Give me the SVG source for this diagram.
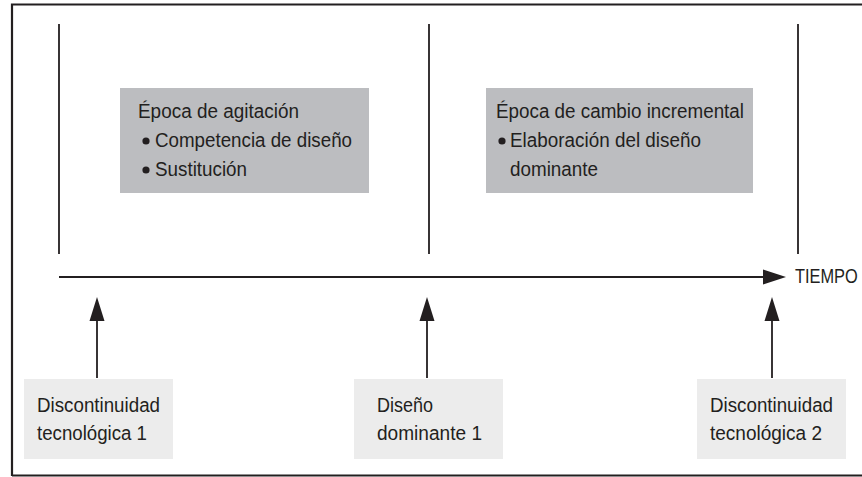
<svg xmlns="http://www.w3.org/2000/svg" width="862" height="477" viewBox="0 0 862 477">
<defs>
<style>
.t{font-family:"Liberation Sans",Arial,sans-serif;font-size:20px;fill:#231f20}
.ln{stroke:#231f20;stroke-width:1.8;fill:none}
.hd{fill:#231f20}
.top{fill:#bcbdc0}
.bot{fill:#ececec}
</style>
</defs>
<rect width="862" height="477" fill="#ffffff"/>
<g id="frame">
<path d="M12,476 V4.5 H862 M12,475.5 H862" stroke="#231f20" stroke-width="2.2" fill="none"/>
</g>
<g id="dividers">
<line class="ln" x1="59" y1="24" x2="59" y2="254"/>
<line class="ln" x1="429" y1="24" x2="429" y2="254"/>
<line class="ln" x1="798" y1="24" x2="798" y2="254"/>
</g>
<g id="epoca-agitacion">
<rect class="top" x="120" y="88" width="249" height="105"/>
<text class="t" x="138" y="118" textLength="161" lengthAdjust="spacingAndGlyphs">Época de agitación</text>
<circle class="hd" cx="146" cy="141" r="3.6"/>
<text class="t" x="155" y="147" textLength="197" lengthAdjust="spacingAndGlyphs">Competencia de diseño</text>
<circle class="hd" cx="146" cy="170" r="3.6"/>
<text class="t" x="155" y="176" textLength="92" lengthAdjust="spacingAndGlyphs">Sustitución</text>
</g>
<g id="epoca-cambio">
<rect class="top" x="486" y="88" width="267" height="105"/>
<text class="t" x="496" y="118" textLength="248" lengthAdjust="spacingAndGlyphs">Época de cambio incremental</text>
<circle class="hd" cx="502" cy="141" r="3.6"/>
<text class="t" x="510" y="147" textLength="191" lengthAdjust="spacingAndGlyphs">Elaboración del diseño</text>
<text class="t" x="510" y="176" textLength="88" lengthAdjust="spacingAndGlyphs">dominante</text>
</g>
<g id="tiempo">
<text class="t" transform="translate(795,283) scale(0.82,1)" x="0" y="0">TIEMPO</text>
</g>
<g id="disc1">
<rect class="bot" x="24" y="379" width="149" height="80"/>
<text class="t" x="37" y="412" textLength="123" lengthAdjust="spacingAndGlyphs">Discontinuidad</text>
<text class="t" x="37" y="440" textLength="110" lengthAdjust="spacingAndGlyphs">tecnológica 1</text>
</g>
<g id="diseno1">
<rect class="bot" x="354" y="379" width="149" height="80"/>
<text class="t" x="377" y="412" textLength="56" lengthAdjust="spacingAndGlyphs">Diseño</text>
<text class="t" x="377" y="440" textLength="105" lengthAdjust="spacingAndGlyphs">dominante 1</text>
</g>
<g id="disc2">
<rect class="bot" x="697" y="379" width="149" height="80"/>
<text class="t" x="710" y="412" textLength="123" lengthAdjust="spacingAndGlyphs">Discontinuidad</text>
<text class="t" x="710" y="440" textLength="112" lengthAdjust="spacingAndGlyphs">tecnológica 2</text>
</g>
<g id="connectors">
<line class="ln" x1="59" y1="277" x2="764" y2="277"/>
<polygon class="hd" points="763,269.5 786,277 763,284.5"/>
<line class="ln" x1="97" y1="378" x2="97" y2="320"/>
<polygon class="hd" points="89.5,321 97,297 104.5,321"/>
<line class="ln" x1="427" y1="378" x2="427" y2="320"/>
<polygon class="hd" points="419.5,321 427,297 434.5,321"/>
<line class="ln" x1="772" y1="378" x2="772" y2="320"/>
<polygon class="hd" points="764.5,321 772,297 779.5,321"/>
</g>
</svg>
